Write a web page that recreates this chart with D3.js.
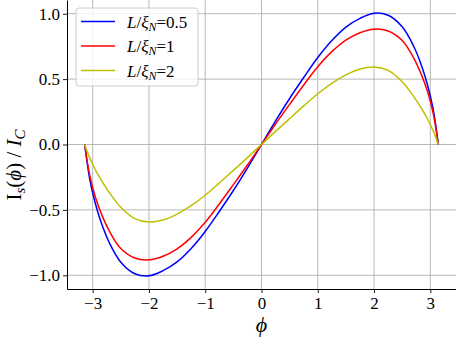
<!DOCTYPE html>
<html>
<head>
<meta charset="utf-8">
<script src="https://cdn.jsdelivr.net/npm/d3@7"></script>
<style>
  body { margin: 0; background: #fff; }
  svg text { font-family: "Liberation Serif", "Times New Roman", serif; fill: #000; }
</style>
</head>
<body>
<div id="chart"></div>
<script>
// phase values (rad) and normalised supercurrent
const phi = [-3.1416, -3.05, -2.95, -2.85, -2.7, -2.5, -2.25, -2.0, -1.75, -1.5, -1.25, -1.0, -0.75, -0.5, -0.25,
             0, 0.25, 0.5, 0.75, 1.0, 1.25, 1.5, 1.75, 2.0, 2.25, 2.5, 2.7, 2.85, 2.95, 3.05, 3.1416];
const currentL05 = [0, -0.27, -0.455, -0.595, -0.755, -0.90, -0.988, -1.004, -0.965, -0.898, -0.795, -0.665, -0.512, -0.352, -0.18,
                    0, 0.18, 0.352, 0.512, 0.665, 0.795, 0.898, 0.965, 1.004, 0.988, 0.90, 0.755, 0.595, 0.455, 0.27, 0];
const currentL1 = [0, -0.24, -0.405, -0.525, -0.665, -0.795, -0.868, -0.882, -0.855, -0.798, -0.71, -0.595, -0.455, -0.307, -0.157,
                   0, 0.157, 0.307, 0.455, 0.595, 0.71, 0.798, 0.855, 0.882, 0.868, 0.795, 0.665, 0.525, 0.405, 0.24, 0];
const currentL2 = [0, -0.105, -0.195, -0.27, -0.37, -0.48, -0.567, -0.593, -0.577, -0.532, -0.468, -0.388, -0.295, -0.198, -0.10,
                   0, 0.10, 0.198, 0.295, 0.388, 0.468, 0.532, 0.577, 0.593, 0.567, 0.48, 0.37, 0.27, 0.195, 0.105, 0];

const seriesNames = ["0.5", "1", "2"];
const seriesColors = ["#0000ff", "#ff0000", "#bfbf00"];
const xTicks = [-3, -2, -1, 0, 1, 2, 3];
const yTicks = [-1.0, -0.5, 0.0, 0.5, 1.0];

const W = 456, H = 337;
const margin = {left: 67, top: 0, right: 0, bottom: 48};
const plotW = W - margin.left - margin.right;
const plotH = H - margin.top - margin.bottom;
const SERIF = "'Liberation Serif', 'Times New Roman', serif";

const svg = d3.select("#chart").append("svg")
    .attr("width", W)
    .attr("height", H);

const x = d3.scaleLinear().domain([-3.456, 3.456]).range([0, plotW]);
const y = d3.scaleLinear().domain([-1.105, 1.105]).range([plotH, 0]);

const chart = svg.append("g")
    .attr("transform", "translate(" + margin.left + "," + margin.top + ")");

// grid
chart.append("g").selectAll("line").data(xTicks).enter().append("line")
    .attr("x1", d => x(d)).attr("x2", d => x(d))
    .attr("y1", 0).attr("y2", plotH)
    .attr("stroke", "#b0b0b0").attr("stroke-width", 0.9);
chart.append("g").selectAll("line").data(yTicks).enter().append("line")
    .attr("x1", 0).attr("x2", plotW)
    .attr("y1", d => y(d)).attr("y2", d => y(d))
    .attr("stroke", "#b0b0b0").attr("stroke-width", 0.9);

// curves
const series = [currentL05, currentL1, currentL2];
const line = d3.line()
    .x((d, i) => x(phi[i]))
    .y(d => y(d))
    .curve(d3.curveCatmullRom.alpha(0.5));

series.forEach(function(s, k) {
    chart.append("path")
        .datum(s)
        .attr("fill", "none")
        .attr("stroke", seriesColors[k])
        .attr("stroke-width", 1.5)
        .attr("d", line);
});

// axes
const fmtX = d => (d < 0 ? "\u2212" : "") + Math.abs(d);
const fmtY = d => (d < 0 ? "\u2212" : "") + Math.abs(d).toFixed(1);

const xAxis = chart.append("g")
    .attr("transform", "translate(0," + plotH + ")")
    .call(d3.axisBottom(x).tickValues(xTicks).tickFormat(fmtX)
        .tickSize(4).tickSizeOuter(0).tickPadding(4));
const yAxis = chart.append("g")
    .call(d3.axisLeft(y).tickValues(yTicks).tickFormat(fmtY)
        .tickSize(4).tickSizeOuter(0).tickPadding(3));

[xAxis, yAxis].forEach(function(a) {
    a.attr("font-family", null).attr("font-size", null);
    a.select(".domain").attr("stroke", "#000").attr("stroke-width", 1);
    a.selectAll(".tick line").attr("stroke", "#000").attr("stroke-width", 0.9);
    a.selectAll(".tick text")
        .style("font-family", SERIF)
        .style("font-size", "17px")
        .attr("fill", "#000");
});
xAxis.selectAll(".tick text").attr("dy", "0.71em");

// axis labels
svg.append("text")
    .attr("x", margin.left + x(0))
    .attr("y", 332)
    .attr("text-anchor", "middle")
    .style("font-size", "22px")
    .style("font-style", "italic")
    .text("\u03d5");

const ylab = svg.append("text")
    .attr("transform", "translate(21,165) rotate(-90)")
    .attr("text-anchor", "middle")
    .style("font-size", "21px");
ylab.append("tspan").text("I");
ylab.append("tspan").style("font-style", "italic").style("font-size", "15px").attr("dy", 4).text("s");
ylab.append("tspan").attr("dy", -4).text("(");
ylab.append("tspan").style("font-style", "italic").text("\u03d5");
ylab.append("tspan").text(") / ");
ylab.append("tspan").style("font-style", "italic").text("I");
ylab.append("tspan").style("font-style", "italic").style("font-size", "15px").attr("dy", 4).text("C");

// legend
const legend = svg.append("g").attr("transform", "translate(76,8)");
legend.append("rect")
    .attr("width", 122).attr("height", 78)
    .attr("rx", 3)
    .attr("fill", "#fff").attr("fill-opacity", 0.8)
    .attr("stroke", "#cccccc").attr("stroke-width", 1);

seriesNames.forEach(function(name, k) {
    const yy = 13.5 + k * 24.5;
    legend.append("line")
        .attr("x1", 5).attr("x2", 39)
        .attr("y1", yy).attr("y2", yy)
        .attr("stroke", seriesColors[k]).attr("stroke-width", 1.5);
    const t = legend.append("text")
        .attr("x", 51).attr("y", yy + 6)
        .style("font-size", "17px");
    t.append("tspan").style("font-style", "italic").text("L");
    t.append("tspan").text("/");
    t.append("tspan").style("font-style", "italic").text("\u03be");
    t.append("tspan").style("font-style", "italic").style("font-size", "12px").attr("dy", 3).text("N");
    t.append("tspan").attr("dy", -3).text("=" + name);
});
</script>
</body>
</html>
